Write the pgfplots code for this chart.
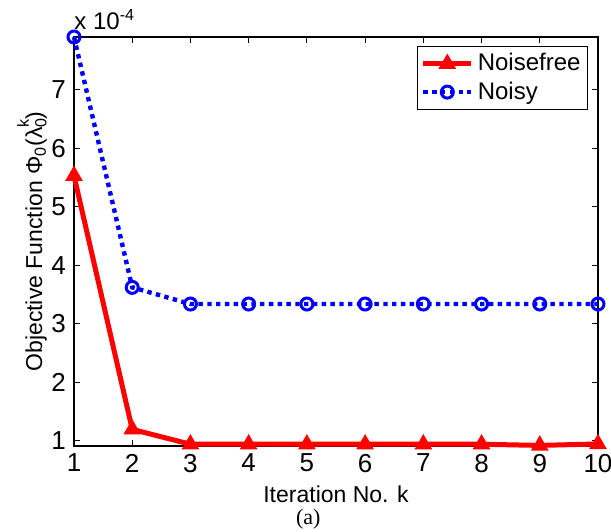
\documentclass[border=0pt]{standalone}
\usepackage{fontspec}
\setmainfont{Liberation Sans}
\newfontfamily\timesfont{Liberation Serif}
\usepackage{pgfplots}
\pgfplotsset{compat=1.18}
\begin{document}
\begin{tikzpicture}
\path[use as bounding box] (-37pt,-42.5pt) rectangle (268.5pt,223pt);
\begin{axis}[
  at={(0,0)}, anchor=origin,
  scale only axis,
  width=262pt, height=204.5pt,
  xmin=1, xmax=10, ymin=0.905, ymax=7.905,
  xtick={1,...,10}, ytick={1,...,7},
  tick align=inside,
  major tick length=3pt,
  tick style={black, line width=0.4pt},
  axis line style={line width=0.6pt},
  /pgf/number format/assume math mode=true,
  tick label style={font=\fontsize{13}{15}\selectfont},
  xticklabel style={yshift=-0.5pt},
  yticklabel style={xshift=-0.5pt},
  clip=false,
  xlabel={Iteration No. k},
  xlabel style={at={(axis description cs:0.5,-0.118)}, anchor=center, font=\fontsize{11.5}{13}\selectfont},
  ylabel={Objective Function Φ\textsubscript{0}(λ\rlap{\raisebox{-0.35ex}{\fontsize{8}{9}\selectfont 0}}\raisebox{1.1ex}{\fontsize{8}{9}\selectfont k})},
  ylabel style={at={(axis description cs:-0.08,0.5)}, anchor=center, font=\fontsize{11.5}{13}\selectfont},
  legend style={at={(rel axis cs:0.981,0.978)}, anchor=north east, draw=black, line width=0.5pt,
    font=\fontsize{12}{14}\selectfont, inner sep=1.5pt, row sep=0pt, cells={anchor=west}},
  legend image code/.code={\draw[mark repeat=2,mark phase=2,#1] plot coordinates {(0pt,0pt) (12pt,0pt) (24pt,0pt)};},
]
\addplot[red, line width=2.5pt, mark=triangle*, mark size=4.5pt,
  mark options={solid, fill=red, draw=red, line width=0.6pt}]
  coordinates {(1,5.53) (2,1.19) (3,0.935) (4,0.935) (5,0.935) (6,0.935) (7,0.935) (8,0.935) (9,0.915) (10,0.94)};
\addlegendentry{Noisefree}
\addplot[blue, line width=2.2pt, dash pattern=on 2.2pt off 2.2pt, mark=o, mark size=3pt,
  mark options={solid, fill=white, draw=blue, line width=1.5pt}]
  coordinates {(1,7.905) (2,3.62) (3,3.335) (4,3.335) (5,3.335) (6,3.335) (7,3.335) (8,3.335) (9,3.335) (10,3.335)};
\addlegendentry{Noisy}
\node[anchor=base west, inner sep=0pt, font=\fontsize{12}{14}\selectfont] at ([yshift=4pt]rel axis cs:0,1) {x 10\textsuperscript{-4}};
\node[anchor=center, inner sep=0pt, font=\timesfont\fontsize{11}{13}\selectfont] at (rel axis cs:0.447,-0.18) {(a)};
\end{axis}
\end{tikzpicture}
\end{document}
